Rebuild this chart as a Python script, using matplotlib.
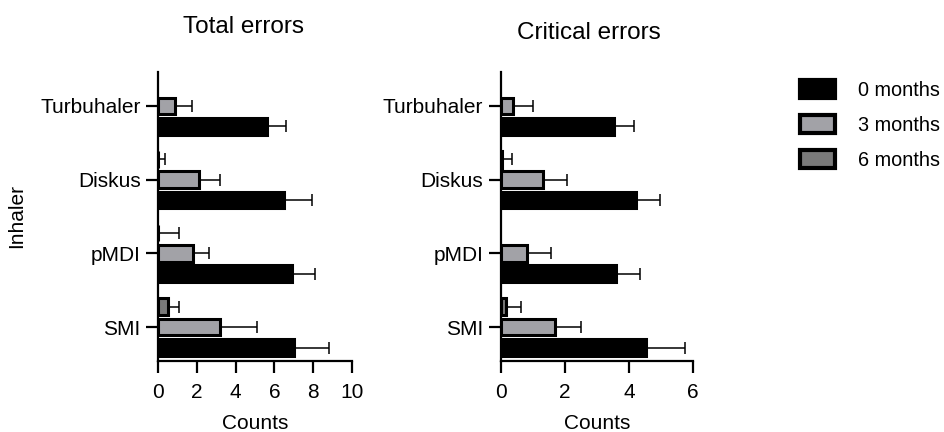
import numpy as np
import matplotlib.pyplot as plt
from matplotlib.patches import Patch

plt.rcParams['font.family'] = ['Liberation Sans', 'DejaVu Sans']

inhalers = ['Turbuhaler', 'Diskus', 'pMDI', 'SMI']
periods = ['0 months', '3 months', '6 months']

# Total errors: mean and upper error per inhaler
total_0 = [5.62, 6.50, 6.90, 7.00]
total_0_err = [0.98, 1.46, 1.19, 1.83]
total_3 = [0.86, 2.12, 1.78, 3.19]
total_3_err = [0.87, 1.07, 0.84, 1.90]
total_6 = [np.nan, 0.0, 0.0, 0.49]
total_6_err = [np.nan, 0.38, 1.09, 0.57]

# Critical errors
crit_0 = [3.52, 4.23, 3.59, 4.54]
crit_0_err = [0.62, 0.72, 0.75, 1.20]
crit_3 = [0.37, 1.33, 0.82, 1.68]
crit_3_err = [0.63, 0.74, 0.76, 0.82]
crit_6 = [np.nan, 0.03, np.nan, 0.17]
crit_6_err = [np.nan, 0.33, np.nan, 0.45]

colors = ['#000000', '#a2a2a7', '#7a7a7a']
fs = 15

fig = plt.figure(figsize=(9.45, 4.32), dpi=100)
ax1 = fig.add_axes([158 / 945, 1 - 361 / 432, 194 / 945, 289 / 432])
ax2 = fig.add_axes([500.7 / 945, 1 - 361 / 432, 192.6 / 945, 289 / 432])

y = np.arange(len(inhalers))
offsets = [0.277, 0.0, -0.277]
h = 0.225


def draw(ax, series, errs, xmax, xticks):
    for k in range(3):
        vals = np.array(series[k], dtype=float)
        e = np.array(errs[k], dtype=float)
        pos = y + offsets[k]
        ok = ~np.isnan(vals)
        ax.barh(pos[ok], vals[ok], height=h, color=colors[k], edgecolor='black',
                linewidth=2.2, zorder=2)
        ax.errorbar(vals[ok], pos[ok], xerr=[np.zeros(ok.sum()), e[ok]], fmt='none',
                    ecolor='black', elinewidth=1.1, capsize=4.5, capthick=1.1, zorder=1)
    ax.set_xlim(0, xmax)
    ax.set_ylim(3.46, -0.46)
    ax.set_xticks(xticks)
    ax.set_yticks(y)
    ax.set_yticklabels(inhalers)
    ax.spines['top'].set_visible(False)
    ax.spines['right'].set_visible(False)
    ax.spines['left'].set_linewidth(1.6)
    ax.spines['bottom'].set_linewidth(1.6)
    ax.tick_params(axis='both', labelsize=fs, length=8.5, width=1.6)
    ax.tick_params(axis='x', pad=7)
    ax.tick_params(axis='y', pad=4)
    ax.set_xlabel('Counts', fontsize=fs, labelpad=9)


draw(ax1, [total_0, total_3, total_6], [total_0_err, total_3_err, total_6_err], 10, [0, 2, 4, 6, 8, 10])
draw(ax2, [crit_0, crit_3, crit_6], [crit_0_err, crit_3_err, crit_6_err], 6, [0, 2, 4, 6])

ax1.set_ylabel('Inhaler', fontsize=fs, labelpad=10)

fig.text(244 / 945, 1 - 27 / 432, 'Total errors', ha='center', va='center', fontsize=17.5)
fig.text(589 / 945, 1 - 33 / 432, 'Critical errors', ha='center', va='center', fontsize=17.5)

handles = [Patch(facecolor=colors[k], edgecolor='black', linewidth=3) for k in range(3)]
fig.legend(handles, periods, loc='upper left', bbox_to_anchor=(800 / 945, 1 - 80 / 432),
           frameon=False, fontsize=14.3, borderpad=0, borderaxespad=0,
           handlelength=1.75, handleheight=1.05, handletextpad=1.15, labelspacing=0.75)

fig.savefig('out.png', dpi=100)
